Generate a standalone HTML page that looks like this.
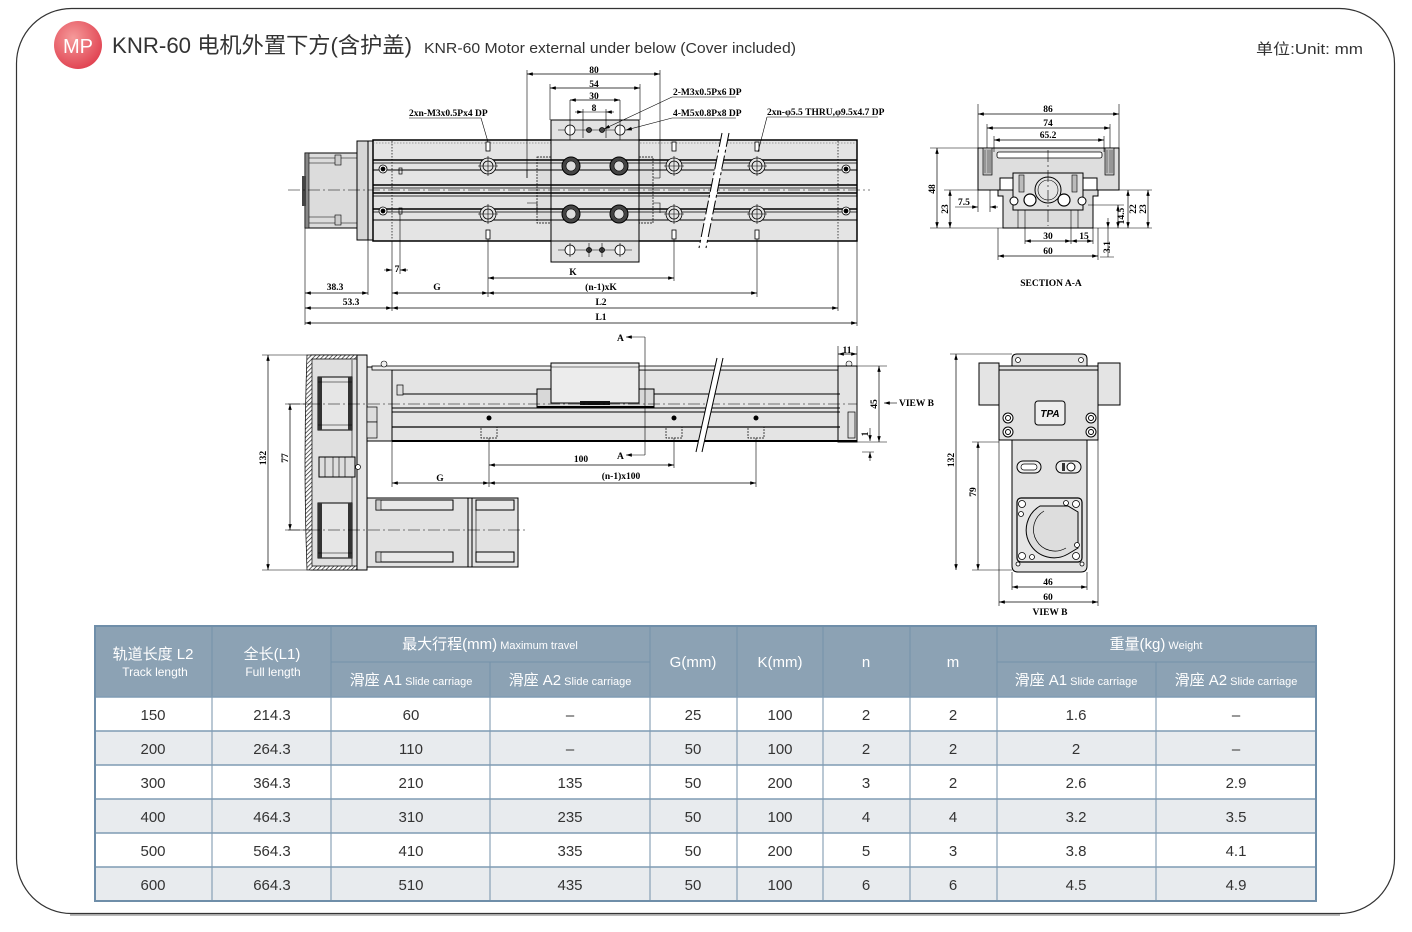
<!DOCTYPE html>
<html><head><meta charset="utf-8">
<style>
html,body{margin:0;padding:0;background:#fff;}
svg{display:block;}
.t{font-family:"Liberation Serif",serif;font-weight:bold;font-size:9.5px;fill:#000;}
.d{stroke:#000;stroke-width:.7;fill:none;marker-start:url(#ar);marker-end:url(#ar);}
.e{stroke:#000;stroke-width:.6;fill:none;}
.l{stroke:#000;stroke-width:1;fill:none;}
.c{stroke:#000;stroke-width:.6;stroke-dasharray:12 3 2 3;fill:none;}
.th{font-family:"Liberation Sans","Noto Sans CJK SC",sans-serif;fill:#fff;}
.td{font-family:"Liberation Sans","Noto Sans CJK SC",sans-serif;fill:#333;font-size:15px;text-anchor:middle;}
</style></head><body>
<svg width="1412" height="932" viewBox="0 0 1412 932" xmlns="http://www.w3.org/2000/svg">
<defs>
<marker id="ar" viewBox="0 0 10 6" refX="10" refY="3" markerWidth="7" markerHeight="3.5" markerUnits="userSpaceOnUse" orient="auto-start-reverse"><path d="M0,0L10,3L0,6z" fill="#000"/></marker>
<radialGradient id="rg" cx="40%" cy="35%" r="70%"><stop offset="0" stop-color="#f59a9a"/><stop offset="1" stop-color="#e0404f"/></radialGradient>
<pattern id="hat" width="3" height="3" patternUnits="userSpaceOnUse" patternTransform="rotate(45)"><rect width="3" height="3" fill="#fff"/><line x1="0" y1="0" x2="0" y2="3" stroke="#222" stroke-width="1.4"/></pattern>
</defs>

<!-- frame -->
<line x1="70" y1="915" x2="1340" y2="915" stroke="#bbb" stroke-width="2"/>
<rect x="16.5" y="8.5" width="1378" height="905" rx="55" ry="55" fill="none" stroke="#333" stroke-width="1.2"/>

<!-- header -->
<circle cx="78" cy="45" r="24" fill="url(#rg)"/>
<text x="78" y="53" text-anchor="middle" font-family="Liberation Sans,sans-serif" font-size="20" fill="#fff">MP</text>
<text x="112" y="53" font-family="Liberation Sans,'Noto Sans CJK SC',sans-serif" font-size="22" fill="#333" textLength="300" lengthAdjust="spacingAndGlyphs">KNR-60 电机外置下方(含护盖)</text>
<text x="424" y="53" font-family="Liberation Sans,sans-serif" font-size="15" fill="#333" textLength="372" lengthAdjust="spacingAndGlyphs">KNR-60 Motor external under below (Cover included)</text>
<text x="1256" y="54" font-family="Liberation Sans,'Noto Sans CJK SC',sans-serif" font-size="15" fill="#333" textLength="107" lengthAdjust="spacingAndGlyphs">单位:Unit: mm</text>

<!-- ================= TOP VIEW ================= -->
<rect x="305" y="153" width="52" height="75" fill="#dcdcdc" stroke="#000"/>
<rect x="305" y="153" width="4" height="75" fill="#888" stroke="#000" stroke-width=".6"/>
<line class="e" x1="309" y1="158" x2="357" y2="158"/>
<line class="e" x1="309" y1="163" x2="335" y2="163"/>
<line class="e" x1="309" y1="223" x2="357" y2="223"/>
<line class="e" x1="309" y1="217" x2="335" y2="217"/>
<rect x="335" y="155" width="6" height="10" fill="#ccc" stroke="#000" stroke-width=".6"/>
<rect x="335" y="215" width="6" height="10" fill="#ccc" stroke="#000" stroke-width=".6"/>
<rect x="302" y="176" width="4" height="30" fill="#444"/>
<rect x="357" y="141" width="11" height="99" fill="#d6d6d6" stroke="#000"/>
<rect x="368" y="141" width="5" height="99" fill="#e0e0e0" stroke="#000"/>
<rect x="373" y="140" width="484" height="101" fill="#e4e4e4" stroke="#000" stroke-width="1.5"/>
<line x1="392" y1="141" x2="392" y2="240" stroke="#000" stroke-width=".7" stroke-dasharray="1.5 1.5"/>
<line x1="838" y1="141" x2="838" y2="240" stroke="#000" stroke-width=".7" stroke-dasharray="1.5 1.5"/>
<line x1="373" y1="143" x2="857" y2="143" stroke="#555" stroke-width=".6" stroke-dasharray="1.5 1.5"/>
<rect x="537" y="157" width="14" height="66" fill="#ddd" stroke="#000" stroke-width=".7" stroke-dasharray="2 1"/>
<rect x="639" y="157" width="14" height="66" fill="#ddd" stroke="#000" stroke-width=".7" stroke-dasharray="2 1"/>
<path d="M527,178 L527,170 L537,170 M527,203 L537,203 L537,213" class="e"/>
<path d="M660,178 L653,178 M653,203 L660,203 L660,213" class="e"/>
<rect x="551" y="120" width="88" height="142" fill="#e2e2e2" stroke="#000"/>
<line class="l" x1="551" y1="140" x2="639" y2="140"/>
<line class="l" x1="551" y1="241" x2="639" y2="241"/>
<g stroke="#000">
<line x1="373" y1="160" x2="857" y2="160" stroke-width="1.4"/>
<line x1="373" y1="163" x2="857" y2="163" stroke-width=".8"/>
<line x1="373" y1="170" x2="857" y2="170" stroke-width="1"/>
<line x1="373" y1="185" x2="857" y2="185" stroke-width="1.4"/>
<line x1="373" y1="188" x2="857" y2="188" stroke-width=".8"/>
<line x1="373" y1="193" x2="857" y2="193" stroke-width="1.4"/>
<line x1="373" y1="196" x2="857" y2="196" stroke-width=".8"/>
<line x1="373" y1="209" x2="857" y2="209" stroke-width="1.4"/>
<line x1="373" y1="212" x2="857" y2="212" stroke-width=".8"/>
<line x1="373" y1="220" x2="857" y2="220" stroke-width="1"/>
</g>
<line class="c" x1="288" y1="190" x2="870" y2="190"/>
<g fill="#e4e4e4" stroke="#000" stroke-width=".8">
<circle cx="488" cy="166" r="8"/><circle cx="488" cy="166" r="5"/>
<circle cx="488" cy="214" r="8"/><circle cx="488" cy="214" r="5"/>
<circle cx="674" cy="166" r="8"/><circle cx="674" cy="166" r="5"/>
<circle cx="674" cy="214" r="8"/><circle cx="674" cy="214" r="5"/>
<circle cx="757" cy="166" r="8"/><circle cx="757" cy="166" r="5"/>
<circle cx="757" cy="214" r="8"/><circle cx="757" cy="214" r="5"/>
</g>
<g class="e">
<path d="M478,166h20M488,156v20M478,214h20M488,204v20M664,166h20M674,156v20M664,214h20M674,204v20M747,166h20M757,156v20M747,214h20M757,204v20"/>
</g>
<g fill="#fff" stroke="#000" stroke-width=".8">
<rect x="486" y="142" width="4" height="9"/><rect x="486" y="230" width="4" height="9"/>
<rect x="672" y="142" width="4" height="9"/><rect x="672" y="230" width="4" height="9"/>
<rect x="755" y="142" width="4" height="9"/><rect x="755" y="230" width="4" height="9"/>
</g>
<g stroke="#000" stroke-width=".8">
<circle cx="383" cy="169" r="4" fill="#fff"/><circle cx="383" cy="169" r="2" fill="#000"/>
<circle cx="383" cy="211" r="4" fill="#fff"/><circle cx="383" cy="211" r="2" fill="#000"/>
<circle cx="846" cy="169" r="4" fill="#fff"/><circle cx="846" cy="169" r="2" fill="#000"/>
<circle cx="846" cy="211" r="4" fill="#fff"/><circle cx="846" cy="211" r="2" fill="#000"/>
</g>
<rect x="399" y="168" width="3" height="6" fill="none" stroke="#000" stroke-width=".7"/>
<rect x="399" y="208" width="3" height="6" fill="none" stroke="#000" stroke-width=".7"/>
<g>
<circle cx="571" cy="166" r="9" fill="#444" stroke="#000"/><circle cx="571" cy="166" r="5" fill="#ddd" stroke="#000" stroke-width=".6"/>
<circle cx="619" cy="166" r="9" fill="#444" stroke="#000"/><circle cx="619" cy="166" r="5" fill="#ddd" stroke="#000" stroke-width=".6"/>
<circle cx="571" cy="214" r="9" fill="#444" stroke="#000"/><circle cx="571" cy="214" r="5" fill="#ddd" stroke="#000" stroke-width=".6"/>
<circle cx="619" cy="214" r="9" fill="#444" stroke="#000"/><circle cx="619" cy="214" r="5" fill="#ddd" stroke="#000" stroke-width=".6"/>
</g>
<g class="e"><path d="M558,130h74M558,250h74"/></g>
<g stroke="#000" stroke-width=".8" fill="#fff">
<circle cx="570" cy="130" r="5"/><circle cx="620" cy="130" r="5"/>
<circle cx="589" cy="130" r="2.5" fill="#444"/><circle cx="602" cy="130" r="2.5" fill="#444"/>
<circle cx="570" cy="250" r="5"/><circle cx="620" cy="250" r="5"/>
<circle cx="589" cy="250" r="2.5" fill="#444"/><circle cx="602" cy="250" r="2.5" fill="#444"/>
</g>
<g class="e"><path d="M570,100v40M620,100v40M583,109v29M606,109v29M589,243v14M602,243v14M570,243v14M620,243v14"/></g>
<polygon points="722,133 729,133 706,248 699,248" fill="#fff"/>
<line x1="722" y1="133" x2="699" y2="248" stroke="#000" stroke-width="1" stroke-dasharray="14 3 3 3"/>
<line x1="729" y1="133" x2="706" y2="248" stroke="#000" stroke-width="1" stroke-dasharray="14 3 3 3"/>
<line class="e" x1="527" y1="70" x2="527" y2="178"/>
<line class="e" x1="660" y1="70" x2="660" y2="178"/>
<line class="e" x1="550" y1="84" x2="550" y2="120"/>
<line class="e" x1="640" y1="84" x2="640" y2="120"/>
<line class="d" x1="527" y1="74" x2="660" y2="74"/>
<line class="d" x1="550" y1="88" x2="640" y2="88"/>
<line class="d" x1="570" y1="100" x2="620" y2="100"/>
<line class="e" x1="575" y1="112" x2="583" y2="112" marker-end="url(#ar)"/>
<line class="e" x1="614" y1="112" x2="606" y2="112" marker-end="url(#ar)"/>
<line class="e" x1="583" y1="112" x2="606" y2="112"/>
<text class="t" x="594" y="73" text-anchor="middle">80</text>
<text class="t" x="594" y="87" text-anchor="middle">54</text>
<text class="t" x="594" y="99" text-anchor="middle">30</text>
<text class="t" x="594" y="111" text-anchor="middle">8</text>
<text class="t" x="673" y="95" font-size="8.5">2-M3x0.5Px6 DP</text>
<line class="e" x1="672" y1="97" x2="736" y2="97"/>
<line class="e" x1="672" y1="97" x2="604" y2="129" marker-end="url(#ar)"/>
<text class="t" x="673" y="116" font-size="8.5">4-M5x0.8Px8 DP</text>
<line class="e" x1="672" y1="118" x2="736" y2="118"/>
<line class="e" x1="672" y1="118" x2="626" y2="130" marker-end="url(#ar)"/>
<text class="t" x="409" y="116" font-size="8.5">2xn-M3x0.5Px4 DP</text>
<line class="e" x1="409" y1="118" x2="481" y2="118"/>
<line class="e" x1="481" y1="118" x2="488" y2="142"/>
<text class="t" x="767" y="115" font-size="8.5">2xn-φ5.5 THRU,φ9.5x4.7 DP</text>
<line class="e" x1="767" y1="117" x2="878" y2="117"/>
<line class="e" x1="767" y1="117" x2="758" y2="152"/>
<g class="e">
<path d="M305,228v97M368,240v55M392,241v70M400,214v60M488,239v58M674,239v42M757,239v58M838,241v70M857,241v85"/>
</g>
<line class="e" x1="384" y1="270" x2="392" y2="270" marker-end="url(#ar)"/>
<line class="e" x1="408" y1="270" x2="400" y2="270" marker-end="url(#ar)"/>
<text class="t" x="397" y="272" text-anchor="middle">7</text>
<line class="d" x1="488" y1="278" x2="674" y2="278"/>
<text class="t" x="573" y="275" text-anchor="middle">K</text>
<line class="d" x1="305" y1="293" x2="368" y2="293"/>
<text class="t" x="335" y="290" text-anchor="middle">38.3</text>
<line class="d" x1="392" y1="293" x2="488" y2="293"/>
<text class="t" x="437" y="290" text-anchor="middle">G</text>
<line class="d" x1="488" y1="293" x2="757" y2="293"/>
<text class="t" x="601" y="290" text-anchor="middle">(n-1)xK</text>
<line class="d" x1="305" y1="308" x2="392" y2="308"/>
<text class="t" x="351" y="305" text-anchor="middle">53.3</text>
<line class="d" x1="392" y1="308" x2="838" y2="308"/>
<text class="t" x="601" y="305" text-anchor="middle">L2</text>
<line class="d" x1="305" y1="323" x2="857" y2="323"/>
<text class="t" x="601" y="320" text-anchor="middle">L1</text>

<!-- ================= SECTION A-A ================= -->
<path d="M978,148 H1119 V190 H1097 V178 H1000 V190 H978 Z" fill="#dedede" stroke="#000"/>
<rect x="997" y="152" width="105" height="6" rx="2" fill="#fff" stroke="#000" stroke-width=".8"/>
<rect x="983" y="148" width="9" height="27" fill="#bbb" stroke="#000" stroke-width=".7"/>
<rect x="1105" y="148" width="9" height="27" fill="#bbb" stroke="#000" stroke-width=".7"/>
<path d="M985,150v23M988,150v23M990,150v23M1107,150v23M1110,150v23M1112,150v23" stroke="#000" stroke-width=".4"/>
<path d="M998,190 H1098 V196 H1093 V228 H1003 V196 H998 Z" fill="#dcdcdc" stroke="#000"/>
<rect x="1013" y="173" width="70" height="37" fill="#e2e2e2" stroke="#000"/>
<rect x="1019" y="175" width="5" height="17" fill="#bbb" stroke="#000" stroke-width=".6"/>
<rect x="1072" y="175" width="5" height="17" fill="#bbb" stroke="#000" stroke-width=".6"/>
<path d="M1018,210 V228 M1078,210 V228 M1025,210 V228 M1071,210 V228" class="e"/>
<circle cx="1048" cy="190" r="13" fill="#e4e4e4" stroke="#000"/>
<circle cx="1048" cy="190" r="10" fill="none" stroke="#000" stroke-width=".6"/>
<circle cx="1030" cy="200" r="6" fill="#fff" stroke="#000" stroke-width="1.2"/>
<circle cx="1064" cy="200" r="6" fill="#fff" stroke="#000" stroke-width="1.2"/>
<circle cx="1014" cy="201" r="4" fill="#fff" stroke="#000"/>
<circle cx="1082" cy="201" r="4" fill="#fff" stroke="#000"/>
<line class="c" x1="1048" y1="150" x2="1048" y2="226"/>
<line class="e" x1="930" y1="228" x2="1152" y2="228"/>
<g class="e"><path d="M978,104v44M1119,104v44M987,124v24M1110,124v24M994,136v16M1104,136v16M930,148h48M944,190h34M1100,190h52M1088,205h36M998,228v32M1098,228v32M1025,228v16M1071,228v16M1093,228v16M1100,257h14"/></g>
<line class="d" x1="978" y1="114" x2="1119" y2="114"/>
<line class="d" x1="987" y1="128" x2="1110" y2="128"/>
<line class="d" x1="994" y1="140" x2="1104" y2="140"/>
<text class="t" x="1048" y="112" text-anchor="middle">86</text>
<text class="t" x="1048" y="126" text-anchor="middle">74</text>
<text class="t" x="1048" y="138" text-anchor="middle">65.2</text>
<line class="d" x1="937" y1="148" x2="937" y2="228"/>
<text class="t" transform="translate(935,189) rotate(-90)" text-anchor="middle">48</text>
<line class="d" x1="950" y1="190" x2="950" y2="228"/>
<text class="t" transform="translate(948,209) rotate(-90)" text-anchor="middle">23</text>
<line class="e" x1="955" y1="207" x2="978" y2="207" marker-end="url(#ar)"/>
<line class="e" x1="998" y1="207" x2="990" y2="207" marker-end="url(#ar)"/>
<line class="e" x1="978" y1="190" x2="978" y2="212"/>
<line class="e" x1="990" y1="190" x2="990" y2="212"/>
<text class="t" x="958" y="205">7.5</text>
<line class="d" x1="1118" y1="205" x2="1118" y2="228"/>
<text class="t" transform="translate(1124,216) rotate(-90)" text-anchor="middle">14.5</text>
<line class="d" x1="1128" y1="190" x2="1128" y2="228"/>
<text class="t" transform="translate(1136,209) rotate(-90)" text-anchor="middle">22</text>
<line class="d" x1="1148" y1="190" x2="1148" y2="228"/>
<text class="t" transform="translate(1146,209) rotate(-90)" text-anchor="middle">23</text>
<line class="e" x1="1108" y1="218" x2="1108" y2="228" marker-end="url(#ar)"/>
<line class="e" x1="1108" y1="228" x2="1108" y2="257"/>
<text class="t" transform="translate(1110,247) rotate(-90)" text-anchor="middle">3.1</text>
<line class="d" x1="1025" y1="241" x2="1071" y2="241"/>
<line class="d" x1="1071" y1="241" x2="1093" y2="241"/>
<text class="t" x="1048" y="239" text-anchor="middle">30</text>
<text class="t" x="1084" y="239" text-anchor="middle">15</text>
<line class="d" x1="998" y1="256" x2="1098" y2="256"/>
<text class="t" x="1048" y="254" text-anchor="middle">60</text>
<text class="t" x="1051" y="286" text-anchor="middle" font-size="11">SECTION A-A</text>

<!-- ================= FRONT VIEW ================= -->
<path d="M311,355 H357 V570 H311 Q306,462 311,355 Z" fill="#e0e0e0" stroke="#000"/>
<path d="M307,355 H357 V359 H312 V566 H357 V570 H307 Q303,462 307,355 Z" fill="url(#hat)" stroke="#000" stroke-width=".7"/>
<rect x="357" y="355" width="10" height="215" fill="#e6e6e6" stroke="#000"/>
<line class="e" x1="352" y1="360" x2="352" y2="566"/>
<rect x="318" y="377" width="34" height="53" fill="#e6e6e6" stroke="#000"/>
<rect x="318" y="377" width="4" height="53" fill="#333"/><rect x="348" y="377" width="4" height="53" fill="#333"/>
<line class="e" x1="318" y1="382" x2="352" y2="382"/><line class="e" x1="318" y1="425" x2="352" y2="425"/>
<rect x="318" y="503" width="34" height="55" fill="#e6e6e6" stroke="#000"/>
<rect x="318" y="503" width="4" height="55" fill="#333"/><rect x="348" y="503" width="4" height="55" fill="#333"/>
<line class="e" x1="318" y1="553" x2="352" y2="553"/>
<rect x="319" y="457" width="36" height="20" fill="#ddd" stroke="#000"/>
<path d="M325,457v20M333,457v20M339,457v20M345,457v20" class="e"/>
<circle cx="358" cy="467" r="2.5" fill="#fff" stroke="#000" stroke-width=".7"/>
<rect x="367" y="367" width="25" height="74" fill="#e4e4e4" stroke="#000"/>
<rect x="367" y="407" width="10" height="15" fill="#ddd" stroke="#000" stroke-width=".7"/>
<rect x="367" y="422" width="10" height="16" fill="#ddd" stroke="#000" stroke-width=".7"/>
<rect x="392" y="370" width="448" height="71" fill="#e4e4e4" stroke="#000"/>
<rect x="372" y="366" width="485" height="4" fill="#f0f0f0" stroke="#000" stroke-width=".8"/>
<circle cx="384" cy="364" r="3" fill="#f0f0f0" stroke="#000" stroke-width=".6"/>
<circle cx="849" cy="364" r="3" fill="#f0f0f0" stroke="#000" stroke-width=".6"/>
<rect x="838" y="366" width="19" height="76" fill="#e4e4e4" stroke="#000"/>
<rect x="848" y="412" width="7" height="26" fill="#ddd" stroke="#000" stroke-width=".7"/>
<line class="l" x1="403" y1="394" x2="840" y2="394"/>
<rect x="397" y="385" width="6" height="10" fill="#ddd" stroke="#000" stroke-width=".7"/>
<line class="l" x1="392" y1="408" x2="840" y2="408"/>
<line class="l" x1="392" y1="412" x2="840" y2="412"/>
<line x1="392" y1="427" x2="840" y2="427" stroke="#000" stroke-width="1.2"/>
<line x1="392" y1="441" x2="857" y2="441" stroke="#000" stroke-width="2"/>
<rect x="537" y="389" width="117" height="18" fill="#d8d8d8" stroke="#000"/>
<rect x="551" y="363" width="88" height="40" fill="#ececec" stroke="#000"/>
<line class="e" x1="551" y1="367" x2="639" y2="367"/>
<rect x="580" y="401" width="30" height="4" fill="#111"/>
<line x1="537" y1="407" x2="654" y2="407" stroke="#000" stroke-width="2"/>
<line class="c" x1="288" y1="404" x2="857" y2="404"/>
<g fill="#000"><circle cx="489" cy="418" r="2.5"/><circle cx="674" cy="418" r="2.5"/><circle cx="756" cy="418" r="2.5"/></g>
<g fill="none" stroke="#000" stroke-width=".7" stroke-dasharray="2 1">
<rect x="481" y="427" width="16" height="11"/><rect x="666" y="427" width="16" height="11"/><rect x="748" y="427" width="16" height="11"/>
</g>
<polygon points="717,358 723,358 702,452 696,452" fill="#fff"/>
<line x1="717" y1="358" x2="696" y2="452" stroke="#000" stroke-width="1"/>
<line x1="723" y1="358" x2="702" y2="452" stroke="#000" stroke-width="1"/>
<rect x="367" y="498" width="151" height="69" fill="#e2e2e2" stroke="#000"/>
<rect x="376" y="500" width="77" height="10" fill="#e8e8e8" stroke="#000"/>
<rect x="376" y="552" width="77" height="10" fill="#e8e8e8" stroke="#000"/>
<rect x="376" y="500" width="5" height="10" fill="#ccc" stroke="#000" stroke-width=".6"/>
<rect x="376" y="552" width="5" height="10" fill="#ccc" stroke="#000" stroke-width=".6"/>
<line class="l" x1="468" y1="498" x2="468" y2="567"/><line class="l" x1="472" y1="498" x2="472" y2="567"/>
<rect x="476" y="500" width="38" height="10" fill="#e8e8e8" stroke="#000"/>
<rect x="476" y="552" width="38" height="10" fill="#e8e8e8" stroke="#000"/>
<line class="e" x1="476" y1="510" x2="476" y2="552"/>
<line class="c" x1="288" y1="530" x2="528" y2="530"/>
<g class="e"><path d="M262,355h45M262,570h45M285,404h25M285,530h25M392,441v46M489,438v49M674,438v30M756,438v49M838,346v20M857,346v20M857,366h30M857,442h30M862,452h12"/></g>
<line class="d" x1="268" y1="355" x2="268" y2="570"/>
<text class="t" transform="translate(266,458) rotate(-90)" text-anchor="middle">132</text>
<line class="d" x1="290" y1="404" x2="290" y2="530"/>
<text class="t" transform="translate(288,458) rotate(-90)" text-anchor="middle">77</text>
<line class="d" x1="838" y1="354" x2="857" y2="354"/>
<text class="t" x="847" y="353" text-anchor="middle">11</text>
<line class="d" x1="879" y1="366" x2="879" y2="442"/>
<text class="t" transform="translate(877,404) rotate(-90)" text-anchor="middle">45</text>
<line class="e" x1="870" y1="428" x2="870" y2="441" marker-end="url(#ar)"/>
<line class="e" x1="870" y1="461" x2="870" y2="452" marker-end="url(#ar)"/>
<text class="t" transform="translate(868,434) rotate(-90)" text-anchor="middle">1</text>
<line class="e" x1="897" y1="403" x2="884" y2="403" marker-end="url(#ar)"/>
<text class="t" x="899" y="406" font-size="10.5">VIEW B</text>
<text class="t" x="617" y="341" font-size="10">A</text>
<line class="e" x1="645" y1="337" x2="626" y2="337" marker-end="url(#ar)"/>
<line class="e" x1="645" y1="337" x2="645" y2="455"/>
<line class="e" x1="645" y1="455" x2="626" y2="455" marker-end="url(#ar)"/>
<text class="t" x="617" y="459" font-size="10">A</text>
<line class="d" x1="489" y1="465" x2="674" y2="465"/>
<text class="t" x="581" y="462" text-anchor="middle">100</text>
<line class="d" x1="392" y1="483" x2="489" y2="483"/>
<text class="t" x="440" y="481" text-anchor="middle">G</text>
<line class="d" x1="489" y1="483" x2="756" y2="483"/>
<text class="t" x="621" y="479" text-anchor="middle">(n-1)x100</text>

<!-- ================= VIEW B ================= -->
<path d="M1012,367 V359 Q1012,354 1017,354 H1082 Q1087,354 1087,359 V367 Z" fill="#e4e4e4" stroke="#000"/>
<circle cx="1018" cy="360" r="2.5" fill="#fff" stroke="#000" stroke-width=".7"/>
<circle cx="1081" cy="360" r="2.5" fill="#fff" stroke="#000" stroke-width=".7"/>
<rect x="979" y="363" width="20" height="42" fill="#e4e4e4" stroke="#000"/>
<rect x="1098" y="363" width="22" height="42" fill="#e4e4e4" stroke="#000"/>
<rect x="999" y="366" width="99" height="74" fill="#e2e2e2" stroke="#000"/>
<line class="l" x1="999" y1="370" x2="1098" y2="370"/>
<rect x="1035" y="401" width="30" height="24" rx="3" fill="#eee" stroke="#000"/>
<text x="1050" y="417" text-anchor="middle" font-family="Liberation Sans,sans-serif" font-style="italic" font-weight="bold" font-size="10" fill="#000">TPA</text>
<g stroke="#000" fill="#fff">
<circle cx="1008" cy="418" r="5"/><circle cx="1008" cy="418" r="2.5"/>
<circle cx="1008" cy="432" r="5"/><circle cx="1008" cy="432" r="2.5"/>
<circle cx="1091" cy="418" r="5"/><circle cx="1091" cy="418" r="2.5"/>
<circle cx="1091" cy="432" r="5"/><circle cx="1091" cy="432" r="2.5"/>
</g>
<path d="M1012,440 V566 Q1012,572 1018,572 H1081 Q1087,572 1087,566 V440 Z" fill="#e2e2e2" stroke="#000"/>
<rect x="1017" y="461" width="24" height="12" rx="6" fill="#eee" stroke="#000"/>
<rect x="1021" y="464" width="16" height="6" rx="3" fill="#fff" stroke="#000" stroke-width=".7"/>
<rect x="1056" y="461" width="25" height="12" rx="6" fill="#eee" stroke="#000"/>
<circle cx="1071" cy="467" r="4" fill="#fff" stroke="#000"/>
<rect x="1062" y="463" width="3" height="8" fill="#333"/>
<rect x="1017" y="498" width="65" height="64" rx="4" fill="#e6e6e6" stroke="#000" stroke-width="1.2"/>
<path d="M1040,506 A27,27 0 1,0 1068,554 L1078,548 L1078,512 L1068,506 Z" fill="#ddd" stroke="#000"/>
<path d="M1044,511 A21,21 0 1,0 1066,548" fill="none" stroke="#000" stroke-width=".7"/>
<g fill="#fff" stroke="#000" stroke-width=".8">
<circle cx="1022" cy="504" r="3.5"/><circle cx="1076" cy="504" r="3.5"/><circle cx="1022" cy="556" r="3.5"/><circle cx="1076" cy="556" r="3.5"/>
<circle cx="1066" cy="503" r="2.5"/><circle cx="1032" cy="557" r="2.5"/><circle cx="1077" cy="545" r="2.5"/><circle cx="1021" cy="514" r="2.5"/>
<circle cx="1018" cy="564" r="2"/><circle cx="1082" cy="564" r="2"/>
</g>
<g class="e"><path d="M950,354h62M972,442h27M972,570h40M999,440v166M1098,440v166M1012,572v18"/></g>
<line class="e" x1="1087" y1="572" x2="1087" y2="590"/>
<line class="d" x1="956" y1="354" x2="956" y2="570"/>
<text class="t" transform="translate(954,460) rotate(-90)" text-anchor="middle">132</text>
<line class="d" x1="978" y1="442" x2="978" y2="570"/>
<text class="t" transform="translate(976,492) rotate(-90)" text-anchor="middle">79</text>
<line class="d" x1="1012" y1="587" x2="1087" y2="587"/>
<text class="t" x="1048" y="585" text-anchor="middle">46</text>
<line class="d" x1="999" y1="602" x2="1098" y2="602"/>
<text class="t" x="1048" y="600" text-anchor="middle">60</text>
<text class="t" x="1050" y="615" text-anchor="middle" font-size="10.5">VIEW B</text>

<!-- ================= TABLE ================= -->
<rect x="95" y="626" width="1221" height="71" fill="#8ca2b4"/>
<rect x="95" y="697" width="1221" height="34" fill="#fff"/>
<rect x="95" y="731" width="1221" height="34" fill="#e8ebee"/>
<rect x="95" y="765" width="1221" height="34" fill="#fff"/>
<rect x="95" y="799" width="1221" height="34" fill="#e8ebee"/>
<rect x="95" y="833" width="1221" height="34" fill="#fff"/>
<rect x="95" y="867" width="1221" height="34" fill="#e8ebee"/>
<g stroke="#7492aa" stroke-width="1">
<path d="M212,626V901M331,626V901M650,626V901M737,626V901M823,626V901M910,626V901M997,626V901M490,662V901M1156,662V901"/>
<path d="M331,662H650M997,662H1316"/>
</g>
<g stroke="#7f9bb3" stroke-width="1.5">
<path d="M95,697H1316M95,731H1316M95,765H1316M95,799H1316M95,833H1316M95,867H1316"/>
</g>
<rect x="95" y="626" width="1221" height="275" fill="none" stroke="#6f8ea9" stroke-width="2"/>
<text class="th" x="153" y="659" text-anchor="middle" font-size="15">轨道长度 L2</text>
<text class="th" x="155" y="676" text-anchor="middle" font-size="12">Track length</text>
<text class="th" x="272" y="659" text-anchor="middle" font-size="15">全长(L1)</text>
<text class="th" x="273" y="676" text-anchor="middle" font-size="12">Full length</text>
<text class="th" x="490" y="649" text-anchor="middle"><tspan font-size="15">最大行程(mm)</tspan><tspan font-size="11"> Maximum travel</tspan></text>
<text class="th" x="411" y="685" text-anchor="middle"><tspan font-size="15">滑座 A1</tspan><tspan font-size="11"> Slide carriage</tspan></text>
<text class="th" x="570" y="685" text-anchor="middle"><tspan font-size="15">滑座 A2</tspan><tspan font-size="11"> Slide carriage</tspan></text>
<text class="th" x="693" y="667" text-anchor="middle" font-size="15">G(mm)</text>
<text class="th" x="780" y="667" text-anchor="middle" font-size="15">K(mm)</text>
<text class="th" x="866" y="667" text-anchor="middle" font-size="15">n</text>
<text class="th" x="953" y="667" text-anchor="middle" font-size="15">m</text>
<text class="th" x="1156" y="649" text-anchor="middle"><tspan font-size="15">重量(kg)</tspan><tspan font-size="11"> Weight</tspan></text>
<text class="th" x="1076" y="685" text-anchor="middle"><tspan font-size="15">滑座 A1</tspan><tspan font-size="11"> Slide carriage</tspan></text>
<text class="th" x="1236" y="685" text-anchor="middle"><tspan font-size="15">滑座 A2</tspan><tspan font-size="11"> Slide carriage</tspan></text>
<g class="td">
<text x="153" y="720">150</text><text x="272" y="720">214.3</text><text x="411" y="720">60</text><text x="570" y="720">–</text><text x="693" y="720">25</text><text x="780" y="720">100</text><text x="866" y="720">2</text><text x="953" y="720">2</text><text x="1076" y="720">1.6</text><text x="1236" y="720">–</text>
<text x="153" y="754">200</text><text x="272" y="754">264.3</text><text x="411" y="754">110</text><text x="570" y="754">–</text><text x="693" y="754">50</text><text x="780" y="754">100</text><text x="866" y="754">2</text><text x="953" y="754">2</text><text x="1076" y="754">2</text><text x="1236" y="754">–</text>
<text x="153" y="788">300</text><text x="272" y="788">364.3</text><text x="411" y="788">210</text><text x="570" y="788">135</text><text x="693" y="788">50</text><text x="780" y="788">200</text><text x="866" y="788">3</text><text x="953" y="788">2</text><text x="1076" y="788">2.6</text><text x="1236" y="788">2.9</text>
<text x="153" y="822">400</text><text x="272" y="822">464.3</text><text x="411" y="822">310</text><text x="570" y="822">235</text><text x="693" y="822">50</text><text x="780" y="822">100</text><text x="866" y="822">4</text><text x="953" y="822">4</text><text x="1076" y="822">3.2</text><text x="1236" y="822">3.5</text>
<text x="153" y="856">500</text><text x="272" y="856">564.3</text><text x="411" y="856">410</text><text x="570" y="856">335</text><text x="693" y="856">50</text><text x="780" y="856">200</text><text x="866" y="856">5</text><text x="953" y="856">3</text><text x="1076" y="856">3.8</text><text x="1236" y="856">4.1</text>
<text x="153" y="890">600</text><text x="272" y="890">664.3</text><text x="411" y="890">510</text><text x="570" y="890">435</text><text x="693" y="890">50</text><text x="780" y="890">100</text><text x="866" y="890">6</text><text x="953" y="890">6</text><text x="1076" y="890">4.5</text><text x="1236" y="890">4.9</text>
</g>
</svg>
</body></html>
